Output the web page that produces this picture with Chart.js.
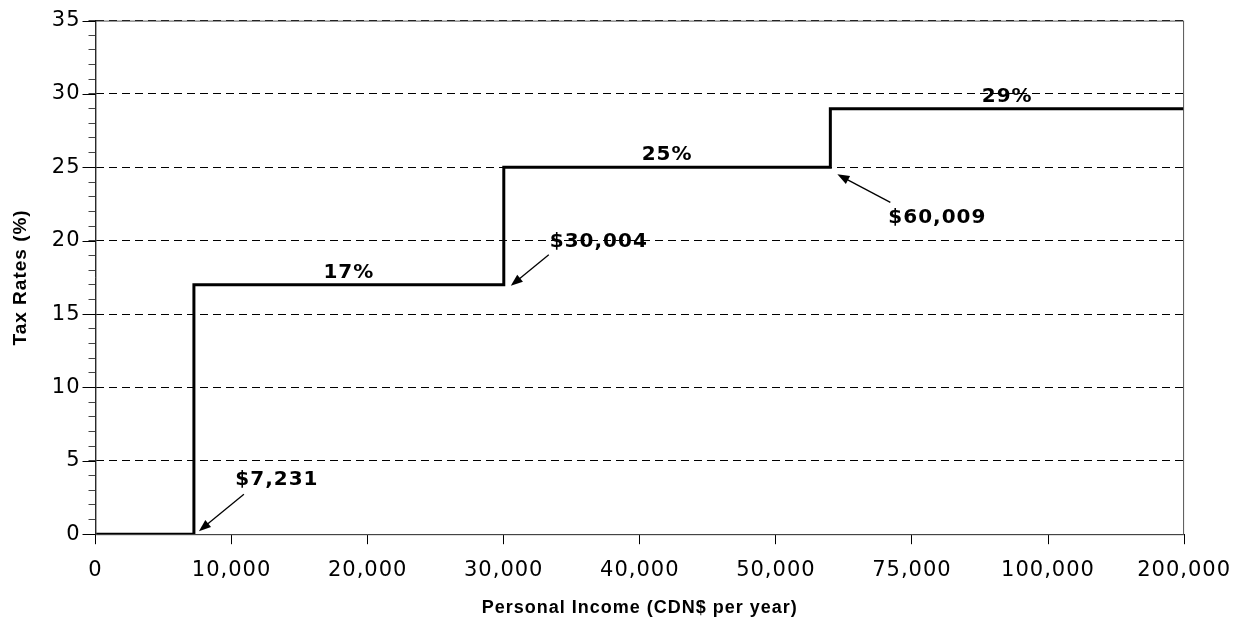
<!DOCTYPE html>
<html>
<head>
<meta charset="utf-8">
<script src="https://cdn.jsdelivr.net/npm/chart.js@4.4.1/dist/chart.umd.min.js"></script>
<style>
    html, body { margin: 0; padding: 0; background: #fff; }
    #wrap { width: 1245px; height: 619px; }
</style>
</head>
<body>
<div id="wrap"><canvas id="taxChart" width="1245" height="619"></canvas></div>
<script>
// x axis is not linear: every tick label gets an equal slot
const incomeTicks = [0, 10000, 20000, 30000, 40000, 50000, 75000, 100000, 200000];
// bracket thresholds (CDN$) and the rate that applies from there on
const thresholds = [0, 7231, 30004, 60009];
const rates = [0, 17, 25, 29];
const rateLabels = ['', '17%', '25%', '29%'];
const thresholdLabels = ['', '$7,231', '$30,004', '$60,009'];

// callout placement (pixels, relative to the step corner) - style only
const callouts = [
    null,
    { text: [83, -54], tail: [50, -40], head: [5, -3] },
    { text: [95, -43], tail: [45, -30], head: [7, 1] },
    { text: [107, 50], tail: [60, 35], head: [7, 7] }
];

const FONT = 'DejaVu Sans';
const TITLE_FONT = 'Liberation Sans';

// map an income onto the equal-slot axis
function incomeToPos(v) {
    for (let i = 0; i < incomeTicks.length - 1; i++) {
        if (v <= incomeTicks[i + 1]) {
            return i + (v - incomeTicks[i]) / (incomeTicks[i + 1] - incomeTicks[i]);
        }
    }
    return incomeTicks.length - 1;
}

const stepPoints = thresholds.map((t, i) => ({ x: incomeToPos(t), y: rates[i] }));
stepPoints.push({ x: incomeToPos(incomeTicks[incomeTicks.length - 1]), y: rates[rates.length - 1] });

function drawArrow(ctx, x1, y1, x2, y2) {
    const ang = Math.atan2(y2 - y1, x2 - x1);
    const len = 12, half = 4.5;
    ctx.beginPath();
    ctx.moveTo(x1, y1);
    ctx.lineTo(x2 - Math.cos(ang) * len * 0.8, y2 - Math.sin(ang) * len * 0.8);
    ctx.stroke();
    ctx.beginPath();
    ctx.moveTo(x2, y2);
    ctx.lineTo(x2 - Math.cos(ang) * len - Math.sin(ang) * half, y2 - Math.sin(ang) * len + Math.cos(ang) * half);
    ctx.lineTo(x2 - Math.cos(ang) * len + Math.sin(ang) * half, y2 - Math.sin(ang) * len - Math.cos(ang) * half);
    ctx.closePath();
    ctx.fill();
}

const spacingPlugin = {
    id: 'spacing',
    beforeUpdate(chart) { chart.ctx.letterSpacing = '1px'; },
    beforeDraw(chart) { chart.ctx.letterSpacing = '1px'; }
};

const decorPlugin = {
    id: 'decor',
    afterDraw(chart) {
        const ctx = chart.ctx;
        const area = chart.chartArea;
        const xs = chart.scales.x, ys = chart.scales.y;
        ctx.save();

        // frame round the plot
        ctx.strokeStyle = '#555';
        ctx.lineWidth = 1;
        ctx.strokeRect(area.left + 0.5, area.top + 0.5, area.right - area.left - 1, area.bottom - area.top);

        // longer marks for the labelled y ticks
        ctx.strokeStyle = '#000';
        for (let v = 0; v <= 35; v += 5) {
            const py = Math.round(ys.getPixelForValue(v)) + 0.5;
            ctx.beginPath();
            ctx.moveTo(area.left - 13, py);
            ctx.lineTo(area.left, py);
            ctx.stroke();
        }

        ctx.fillStyle = '#000';
        ctx.font = 'bold 20px "' + FONT + '"';
        ctx.textAlign = 'center';

        // rate labels above each bracket
        for (let i = 1; i < stepPoints.length - 1; i++) {
            const mid = (xs.getPixelForValue(stepPoints[i].x) + xs.getPixelForValue(stepPoints[i + 1].x)) / 2;
            ctx.textBaseline = 'alphabetic';
            ctx.fillText(rateLabels[i], mid, ys.getPixelForValue(rates[i]) - 7);
        }

        // threshold callouts with arrows
        ctx.lineWidth = 1.3;
        for (let i = 1; i < thresholds.length; i++) {
            const c = callouts[i];
            const cx = xs.getPixelForValue(incomeToPos(thresholds[i]));
            const cy = ys.getPixelForValue(rates[i - 1]);
            ctx.textBaseline = 'middle';
            ctx.fillText(thresholdLabels[i], cx + c.text[0], cy + c.text[1]);
            drawArrow(ctx, cx + c.tail[0], cy + c.tail[1], cx + c.head[0], cy + c.head[1]);
        }
        ctx.restore();
    }
};

document.addEventListener('DOMContentLoaded', function() {
    const ctx = document.getElementById('taxChart').getContext('2d');
    new Chart(ctx, {
        type: 'line',
        data: {
            datasets: [{
                data: stepPoints,
                stepped: 'before',
                borderColor: '#000',
                borderWidth: 3,
                pointRadius: 0,
                fill: false
            }]
        },
        options: {
            responsive: false,
            animation: false,
            layout: { padding: { top: 2, right: 10, left: 9, bottom: 0 } },
            plugins: {
                legend: { display: false },
                tooltip: { enabled: false }
            },
            scales: {
                x: {
                    type: 'linear',
                    min: 0,
                    max: incomeTicks.length - 1,
                    ticks: {
                        stepSize: 1,
                        autoSkip: false,
                        maxRotation: 0,
                        padding: 14,
                        color: '#000',
                        font: { family: FONT, size: 21 },
                        callback: v => Number.isInteger(v) ? incomeTicks[v].toLocaleString('en-US') : ''
                    },
                    grid: { drawOnChartArea: false, tickLength: 10, color: '#000', tickColor: '#000' },
                    border: { color: '#000', width: 1 },
                    title: {
                        display: true,
                        text: 'Personal Income (CDN$ per year)',
                        color: '#000',
                        font: { family: TITLE_FONT, size: 18, weight: 'bold' },
                        padding: { top: 0, bottom: 0 }
                    }
                },
                y: {
                    min: 0,
                    max: 35,
                    ticks: {
                        stepSize: 1,
                        autoSkip: false,
                        padding: 8,
                        color: '#000',
                        font: { family: FONT, size: 21 },
                        callback: v => v % 5 === 0 ? v : ''
                    },
                    grid: {
                        color: c => (c.tick && c.tick.value % 5 === 0) ? '#000' : 'rgba(0,0,0,0)',
                        tickColor: '#444',
                        tickLength: 7
                    },
                    border: { color: '#000', dash: [8, 5] },
                    title: {
                        display: true,
                        text: 'Tax Rates (%)',
                        color: '#000',
                        font: { family: TITLE_FONT, size: 19, weight: 'bold' },
                        padding: { top: 0, bottom: 12 }
                    }
                }
            }
        },
        plugins: [spacingPlugin, decorPlugin]
    });
});
</script>
</body>
</html>
